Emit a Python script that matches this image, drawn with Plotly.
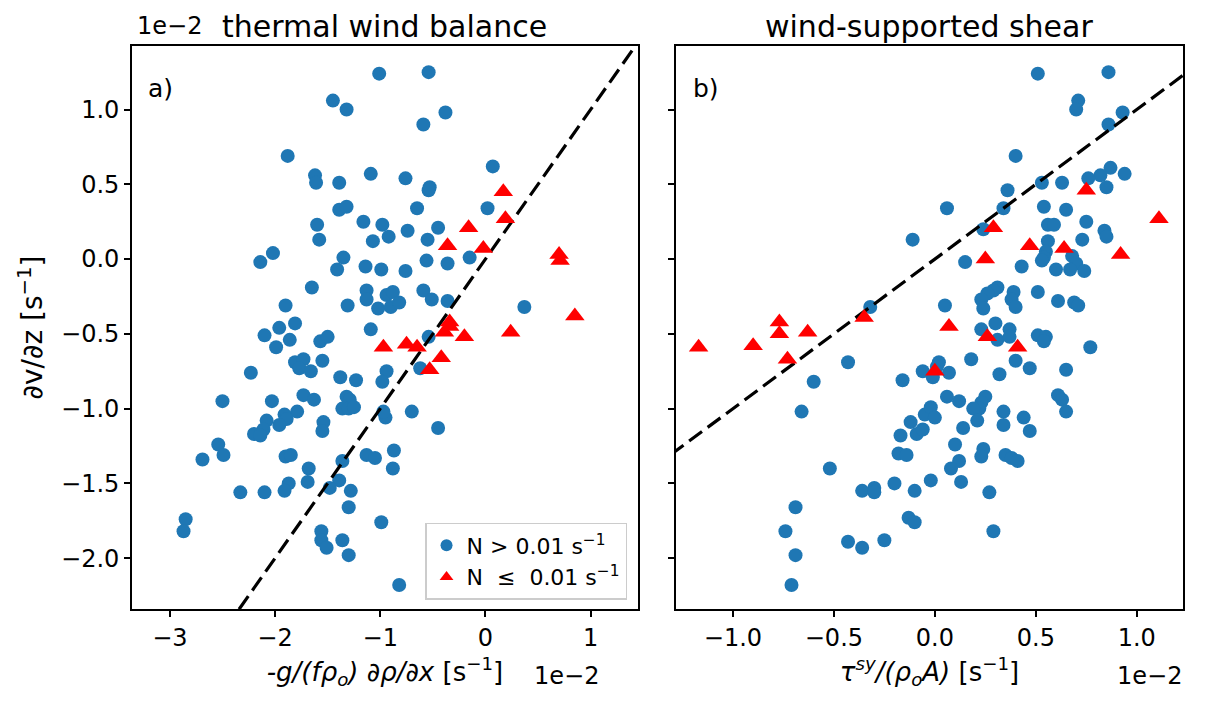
import plotly.graph_objects as go

# ---------------- data (units of 1e-2 s^-1) ----------------
# panel a) thermal wind balance, N > 0.01
a_hi_x = [-1.01, -1.45, -1.32, -1.88, -1.62, -1.61, -1.39, -1.09, -1.39, -1.32,
          -1.60, -1.58, -1.16, -0.98, -0.92, -1.07, -2.02, -2.14, -1.35, -1.41,
          -1.14, -0.99, -1.65, -1.90, -1.31, -1.13, -1.13, -1.02, -0.94, -0.90,
          -1.81, -1.96, -1.09, -0.54, -0.38, -0.59, 0.07, -0.76, -0.53, -0.54,
          -0.65, 0.02, -0.74, -0.45, -0.55, -0.56, -0.36, -0.15, -0.76, -0.88,
          -0.82, -0.59, -0.51, -0.36, 0.37, -0.54, -0.94, -0.98, -0.62, -0.70,
          -0.95, -0.97, -0.45, -0.87, -0.88, -0.99, -0.82, -2.10, -1.99, -1.86,
          -1.57, -1.50, -1.81, -1.73, -1.77, -1.55, -1.66, -2.23, -1.38, -1.23,
          -2.50, -2.03, -1.73, -1.63, -1.32, -1.29, -1.36, -1.30, -1.25, -1.79,
          -1.91, -1.89, -1.96, -2.08, -2.11, -2.20, -2.14, -1.54, -1.55, -2.54,
          -2.49, -2.69, -1.90, -1.85, -1.68, -1.69, -1.87, -1.91, -2.33, -2.10,
          -1.36, -1.39, -1.48, -1.28, -1.30, -1.13, -1.05, -2.85, -2.87, -1.56,
          -1.56, -1.51, -1.36, -1.30]
a_hi_y = [1.24, 1.06, 1.00, 0.69, 0.56, 0.51, 0.51, 0.57, 0.33, 0.35,
          0.23, 0.13, 0.25, 0.23, 0.15, 0.12, 0.04, -0.02, 0.01, -0.07,
          -0.05, -0.07, -0.19, -0.31, -0.31, -0.21, -0.27, -0.33, -0.24, -0.32,
          -0.43, -0.46, -0.47, 1.25, 0.98, 0.90, 0.62, 0.54, 0.48, 0.46,
          0.34, 0.34, 0.19, 0.21, 0.13, -0.01, -0.03, 0.01, -0.08, -0.22,
          -0.29, -0.21, -0.27, -0.28, -0.32, -0.52, -0.75, -0.82, -0.73, -1.02,
          -1.06, -1.02, -1.13, -1.28, -1.40, -1.76, -2.18, -0.51, -0.59, -0.54,
          -0.55, -0.52, -0.69, -0.67, -0.73, -0.68, -0.75, -0.76, -0.79, -0.81,
          -0.95, -0.95, -0.91, -0.94, -0.92, -0.94, -1.00, -1.00, -0.99, -1.02,
          -1.04, -1.07, -1.11, -1.08, -1.14, -1.17, -1.18, -1.09, -1.15, -1.24,
          -1.31, -1.34, -1.32, -1.31, -1.40, -1.49, -1.50, -1.55, -1.56, -1.56,
          -1.35, -1.48, -1.53, -1.55, -1.66, -1.31, -1.33, -1.74, -1.82, -1.82,
          -1.88, -1.93, -1.88, -1.98]

# panel a), N <= 0.01
a_lo_x = [0.17, 0.19, -0.16, -0.36, -0.02, 0.70, 0.71, 0.85, -0.34, -0.39,
          -0.20, 0.24, -0.97, -0.75, -0.65, -0.42, -0.53, -0.34]
a_lo_y = [0.45, 0.27, 0.21, 0.09, 0.07, 0.03, -0.01, -0.38, -0.42, -0.49,
          -0.52, -0.49, -0.59, -0.57, -0.59, -0.66, -0.74, -0.45]

# panel b) wind-supported shear, N > 0.01
b_hi_x = [-0.32, -0.11, -0.43, -0.60, -0.66, -0.52, -0.69, -0.74, -0.69, -0.71,
          -0.43, -0.36, -0.25, -0.36, -0.30, -0.30, -0.20, -0.10, -0.13, -0.10,
          -0.17, -0.12, -0.09, -0.06, -0.05, -0.02, -0.18, -0.14, -0.16, -0.06,
          -0.02, 0.51, 0.86, 0.71, 0.70, 0.93, 0.86, 0.40, 0.87, 0.82,
          0.94, 0.76, 0.85, 0.53, 0.63, 0.36, 0.06, 0.34, 0.54, 0.65,
          0.56, 0.59, 0.75, 0.84, 0.85, 0.56, 0.73, 0.24, 0.55, 0.54,
          0.53, 0.68, 0.70, 0.15, 0.43, 0.60, 0.67, 0.74, 0.31, 0.29,
          0.26, 0.23, 0.24, 0.39, 0.38, 0.40, 0.51, 0.61, 0.69, 0.71,
          0.05, 0.30, 0.37, 0.23, 0.31, 0.37, 0.51, 0.55, 0.54, 0.77,
          0.18, 0.40, 0.47, 0.65, 0.02, 0.01, -0.01, 0.07, 0.32, 0.06,
          0.12, 0.25, 0.23, 0.22, 0.19, 0.21, 0.34, 0.44, 0.34, 0.47,
          0.61, 0.63, 0.65, 0.00, 0.14, 0.10, 0.24, 0.23, 0.12, 0.08,
          0.35, 0.38, 0.41, 0.13, 0.27, 0.29]
b_hi_y = [-0.32, 0.13, -0.69, -0.82, -1.02, -1.40, -1.66, -1.82, -1.98, -2.18,
          -1.89, -1.93, -1.88, -1.55, -1.53, -1.56, -1.50, -1.55, -1.73, -1.76,
          -1.18, -1.09, -1.17, -1.14, -1.04, -0.99, -1.30, -1.31, -0.81, -0.75,
          -1.48, 1.24, 1.25, 1.06, 1.00, 0.98, 0.90, 0.69, 0.61, 0.56,
          0.57, 0.54, 0.48, 0.51, 0.51, 0.46, 0.34, 0.34, 0.35, 0.33,
          0.23, 0.23, 0.25, 0.19, 0.15, 0.12, 0.13, 0.20, 0.05, 0.01,
          -0.01, 0.02, -0.03, -0.02, -0.05, -0.07, -0.07, -0.08, -0.19, -0.21,
          -0.23, -0.27, -0.33, -0.22, -0.27, -0.32, -0.22, -0.28, -0.29, -0.31,
          -0.31, -0.43, -0.47, -0.47, -0.54, -0.52, -0.51, -0.52, -0.55, -0.59,
          -0.67, -0.68, -0.73, -0.74, -0.69, -0.72, -0.79, -0.76, -0.77, -0.92,
          -0.95, -0.92, -0.96, -1.00, -1.00, -1.08, -1.02, -1.06, -1.11, -1.15,
          -0.91, -0.94, -1.02, -1.06, -1.13, -1.24, -1.27, -1.32, -1.35, -1.40,
          -1.31, -1.33, -1.35, -1.49, -1.56, -1.82]

# panel b), N <= 0.01
b_lo_x = [-0.77, -0.77, -0.63, -1.17, -0.90, -0.73, -0.35, 0.00, 0.75, 1.11,
          0.29, 0.47, 0.64, 0.92, 0.25, 0.07, 0.26, 0.41]
b_lo_y = [-0.42, -0.50, -0.49, -0.59, -0.58, -0.67, -0.39, -0.75, 0.46, 0.27,
          0.21, 0.09, 0.07, 0.03, 0.00, -0.45, -0.52, -0.59]

# 1:1 reference line
ref_a = [-3.6, 1.6]
ref_b = [-1.4, 1.3]

y_ticks = [-2.0, -1.5, -1.0, -0.5, 0.0, 0.5, 1.0]
xa_ticks = [-3, -2, -1, 0, 1]
xb_ticks = [-1.0, -0.5, 0.0, 0.5, 1.0]

# ---------------- styling ----------------
BLUE = "#1f77b4"
RED = "#ff0000"
FONT = "DejaVu Sans"
TICK_FS = 24
LAB_FS = 26
DOT = 14
TRI = 17

fig = go.Figure()

def add_panel(xh, yh, xl, yl, ref, xa, ya, show_legend):
    fig.add_trace(go.Scatter(x=xh, y=yh, mode="markers", xaxis=xa, yaxis=ya,
                             marker=dict(color=BLUE, size=DOT, line=dict(width=0)),
                             name="N > 0.01 s<sup>−1</sup>", showlegend=show_legend))
    fig.add_trace(go.Scatter(x=ref, y=ref, mode="lines", xaxis=xa, yaxis=ya,
                             line=dict(color="black", width=3.2, dash="16px,7px"),
                             showlegend=False, hoverinfo="skip"))
    fig.add_trace(go.Scatter(x=xl, y=yl, mode="markers", xaxis=xa, yaxis=ya,
                             marker=dict(color=RED, size=TRI, symbol="triangle-up",
                                         line=dict(width=0)),
                             name="N  ≤  0.01 s<sup>−1</sup>", showlegend=show_legend))

add_panel(a_hi_x, a_hi_y, a_lo_x, a_lo_y, ref_a, "x", "y", True)
add_panel(b_hi_x, b_hi_y, b_lo_x, b_lo_y, ref_b, "x2", "y2", False)

axis_common = dict(showline=True, linecolor="black", linewidth=1.6, mirror=True,
                   ticks="outside", ticklen=6, tickwidth=1.6, tickcolor="black",
                   showgrid=False, zeroline=False,
                   tickfont=dict(family=FONT, size=TICK_FS, color="black"))

# page body has an 8px margin: figure is shrunk/shifted to compensate
fig.update_layout(
    width=1197, height=693,
    margin=dict(l=124, r=22, t=38, b=92),
    plot_bgcolor="white", paper_bgcolor="white",
    font=dict(family=FONT, color="black"),
    xaxis=dict(domain=[0, 0.4814], range=[-3.36, 1.45], tickvals=xa_ticks,
               tickformat="d",
               title=dict(text="<i>-g/(fρ<sub>o</sub>) ∂ρ/∂x</i> [s<sup>−1</sup>]",
                          font=dict(size=LAB_FS), standoff=12),
               **axis_common),
    yaxis=dict(domain=[0, 1], range=[-2.34, 1.425], tickvals=y_ticks,
               tickformat=".1f",
               title=dict(text="∂v/∂z [s<sup>−1</sup>]", font=dict(size=28),
                          standoff=10),
               **axis_common),
    xaxis2=dict(domain=[0.5176, 1], range=[-1.282, 1.229], tickvals=xb_ticks,
                tickformat=".1f", anchor="y2",
                title=dict(text="<i>τ<sup>sy</sup>/(ρ<sub>o</sub>A)</i> [s<sup>−1</sup>]",
                           font=dict(size=LAB_FS), standoff=12),
                **axis_common),
    yaxis2=dict(domain=[0, 1], range=[-2.34, 1.425], tickvals=y_ticks,
                anchor="x2", matches="y", showticklabels=False, **axis_common),
    legend=dict(x=0.471, y=0.016, xanchor="right", yanchor="bottom",
                bgcolor="rgba(255,255,255,0.85)", bordercolor="#cccccc",
                borderwidth=1.5, font=dict(family=FONT, size=22),
                itemsizing="constant", tracegroupgap=2),
    showlegend=True,
)

ann = [
    dict(text="thermal wind balance", x=0.2407, y=1.0355, size=30, xanchor="center"),
    dict(text="wind-supported shear", x=0.7588, y=1.0355, size=30, xanchor="center"),
    dict(text="1e−2", x=0.004, y=1.036, size=TICK_FS, xanchor="left"),
    dict(text="1e−2", x=0.4453, y=-0.119, size=TICK_FS, xanchor="right"),
    dict(text="1e−2", x=1.0, y=-0.119, size=TICK_FS, xanchor="right"),
    dict(text="a)", x=0.0143, y=0.925, size=25, xanchor="left"),
    dict(text="b)", x=0.5328, y=0.925, size=25, xanchor="left"),
]
for a in ann:
    fig.add_annotation(text=a["text"], x=a["x"], y=a["y"], xref="paper", yref="paper",
                       xanchor=a["xanchor"], yanchor="middle", showarrow=False,
                       borderpad=0,
                       font=dict(family=FONT, size=a["size"], color="black"))

fig.write_html("out.html")
